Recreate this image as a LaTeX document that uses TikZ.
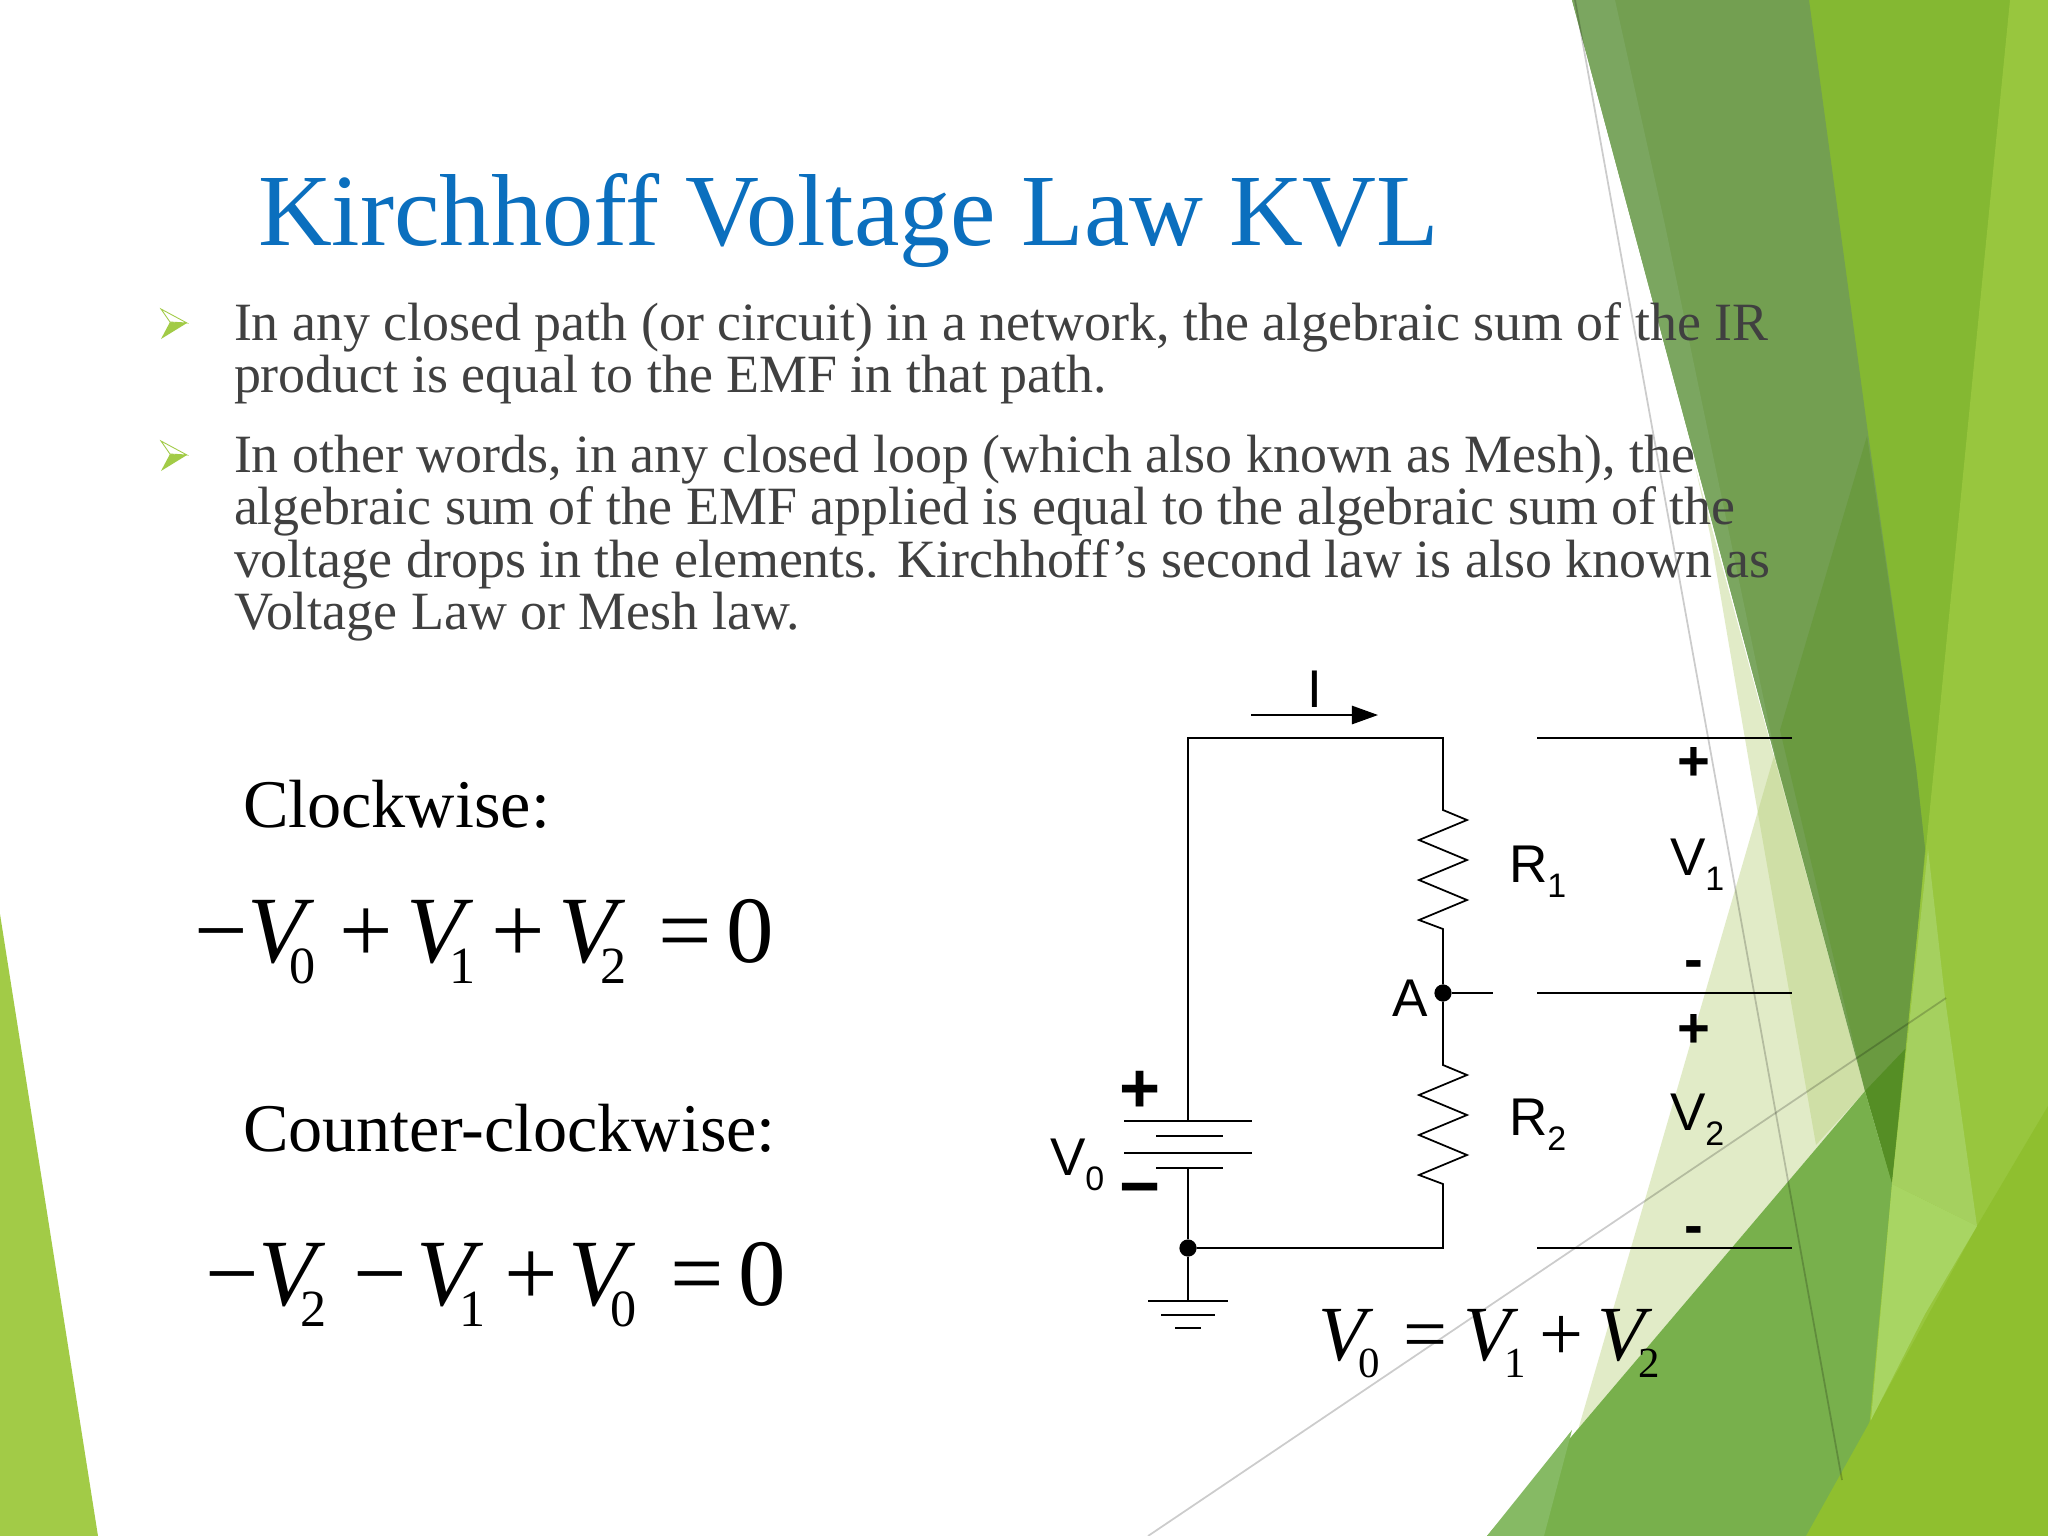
\documentclass[tikz, border = 0pt]{standalone}
\usepackage{fontspec}
\setmainfont{Liberation Serif}
\newfontfamily\arialfont{Liberation Sans}
\usetikzlibrary{arrows.meta}

\definecolor{titleblue}{HTML}{0B6FBE}
\definecolor{bodygray}{HTML}{404040}
\definecolor{leftgreen}{HTML}{A2CB47}
\definecolor{bandgreen}{HTML}{84B832}
\definecolor{olivegreen}{HTML}{739F51}
\definecolor{sliver}{HTML}{7BA660}
\definecolor{darkolive}{HTML}{6A9A40}
\definecolor{deepgreen}{HTML}{558E25}
\definecolor{midgreen}{HTML}{78B04C}
\definecolor{midlight}{HTML}{86BA64}
\definecolor{palegreen}{HTML}{B6CF75}
\definecolor{lightgreen}{HTML}{98C63E}
\definecolor{lowgreen}{HTML}{8FBF2F}
\definecolor{softgreen}{HTML}{A5D05F}
\definecolor{softergreen}{HTML}{A8D563}

% subscripted variable of the equations
\newcommand{\vsub}[2][-0.26em]{\textit{V}\kern#1\raisebox{-0.23em}{\scalebox{0.55}{#2}}}
\newcommand{\elsub}[2]{#1\raisebox{-0.3em}{\scalebox{0.64}{#2}}}

\tikzset{
	every node/.style = {inner sep = 0pt, outer sep = 0pt},
	wire/.style = {line width = 0.5pt},
	dot/.style = {circle, fill = black, minimum size = 4.9pt},
	titletext/.style = {anchor = base west, text = titleblue, font = \fontsize{29.1}{34}\selectfont},
	bodytext/.style = {anchor = north west, align = left, text = bodygray, font = \fontsize{15.33}{14.8}\selectfont},
	headtext/.style = {anchor = base west, font = \fontsize{19.4}{23}\selectfont},
	bigeq/.style = {anchor = base west, font = \fontsize{27}{32}\selectfont},
	smalleq/.style = {anchor = base west, font = \fontsize{22.2}{26}\selectfont},
	cirtext/.style = {anchor = base west, font = \arialfont\fontsize{15.1}{18}\selectfont},
	signtext/.style = {font = \arialfont\bfseries\fontsize{16}{18}\selectfont},
	battsign/.style = {font = \arialfont\bfseries\fontsize{20}{22}\selectfont},
	thinline/.style = {black, opacity = 0.2, line width = 0.5pt}
}

\begin{document}
\begin{tikzpicture}[x = 0.01cm, y = -0.01cm]

	\useasboundingbox [fill = white] (0, 0) rectangle (2048, 1536);

	% Green facets

	\fill [leftgreen] (0, 914) -- (98, 1536) -- (0, 1536) -- cycle;
	\fill [palegreen, opacity = 0.4] (1696, 470) -- (1865, 1091) -- (1816, 1145) -- (1750, 768) -- (1710, 534) -- cycle;
	\fill [palegreen, opacity = 0.4] (1783, 725) -- (1865, 1091) -- (1487, 1536) -- (1578, 1430) -- cycle;
	\fill [bandgreen] (1780, 0) -- (2048, 0) -- (2048, 1536) -- (1859, 1536) -- (1880, 1184) -- (1900, 849) -- (1890, 768) -- cycle;
	\fill [olivegreen] (1572, 0) -- (1809, 0) -- (1867, 426) -- (1916, 768) -- (1925, 849) -- (1892, 1184) -- (1865, 1091) -- (1778, 768) -- cycle;
	\fill [sliver] (1572, 0) -- (1615, 0) -- (1665, 225) -- (1778, 768) -- cycle;
	\fill [darkolive] (1867, 436) -- (1916, 768) -- (1925, 849) -- (1907, 1047) -- (1865, 1091) -- (1780, 730) -- cycle;
	\fill [deepgreen] (1907, 1047) -- (1892, 1184) -- (1865, 1091) -- cycle;
	\fill [midgreen] (1487, 1536) -- (1865, 1091) -- (1892, 1184) -- (1859, 1536) -- cycle;
	\fill [midlight] (1487, 1536) -- (1572, 1430) -- (1544, 1536) -- cycle;
	\fill [lightgreen] (2010, 0) -- (2048, 0) -- (2048, 1536) -- (1859, 1536) -- (1892, 1184) -- (1934, 768) -- cycle;
	\fill [lowgreen] (1806, 1536) -- (1868, 1425) -- (1977, 1226) -- (2048, 1106) -- (2048, 1536) -- cycle;
	\fill [softgreen] (1928, 849) -- (1945, 998) -- (1977, 1226) -- (1892, 1184) -- cycle;
	\fill [softergreen] (1892, 1184) -- (1977, 1226) -- (1925, 1314) -- (1871, 1420) -- cycle;

	\draw [thinline] (1575, 0) -- (1842, 1480);
	\draw [thinline] (1148, 1536) -- (1946, 998);

	% Title and bullets

	\node [titletext] (title) at (258, 245) {Kirchhoff Voltage Law KVL};

	\foreach \y in {0, 132} {
		\fill [leftgreen] (170, 322 + \y) -- (187, 323 + \y) -- (161, 339 + \y) -- cycle;
		\draw [leftgreen, line width = 0.25pt, fill = white] (161, 309 + \y) -- (187, 323 + \y) -- (170, 322 + \y) -- cycle;
	}

	\node [bodytext] (first) at (234, 302.5) {In any closed path (or circuit) in a network, the algebraic sum of the IR\\product is equal to the EMF in that path.};
	\node [bodytext] (second) at (234, 435.5) {In other words, in any closed loop (which also known as Mesh), the\\algebraic sum of the EMF applied is equal to the algebraic sum of the\\voltage drops in the elements. Kirchhoff’s second law is also known as\\Voltage Law or Mesh law.};

	% Equations

	\node [headtext] (clock) at (243, 827.5) {Clockwise:};
	\node [bigeq] (clockeq) at (194, 962) {−\vsub{0}\kern.25em+\kern.14em\vsub{1}\kern.17em+\kern.14em\vsub{2}\kern.33em=\kern.16em0};
	\node [headtext] (counter) at (243, 1151) {Counter-clockwise:};
	\node [bigeq] (countereq) at (205, 1305) {−\vsub{2}\kern.28em−\kern.1em\vsub{1}\kern.2em+\kern.11em\vsub{0}\kern.35em=\kern.16em0};
	\node [smalleq] (sumeq) at (1318, 1360) {\vsub[-0.19em]{0}\kern.3em=\kern.21em\vsub[-0.19em]{1}\kern.18em+\kern.18em\vsub[-0.19em]{2}};

	% Circuit

	\coordinate (tl) at (1188, 738);
	\coordinate (tr) at (1443, 738);
	\coordinate (ra) at (1443, 810);
	\coordinate (rb) at (1443, 929);
	\coordinate (rc) at (1443, 1065);
	\coordinate (rd) at (1443, 1184);
	\coordinate (br) at (1443, 1248);
	\coordinate (battop) at (1188, 1121);
	\coordinate (batbot) at (1188, 1168);
	\coordinate (gnd) at (1188, 1301);
	\coordinate (stub) at (1493, 993);

	\node [dot] (nodea) at (1443, 993) {};
	\node [dot] (nodeb) at (1188, 1248) {};

	\draw [wire] (battop) -- (tl) -- (tr) -- (ra) -- ++(24, 10) -- ++(-48, 20) -- ++(48, 20) -- ++(-48, 20) -- ++(48, 20) -- ++(-48, 20) -- (rb) -- (nodea);
	\draw [wire] (nodea) -- (rc) -- ++(24, 10) -- ++(-48, 20) -- ++(48, 20) -- ++(-48, 20) -- ++(48, 20) -- ++(-48, 20) -- (rd) -- (br) -- (nodeb);
	\draw [wire] (batbot) -- (nodeb) -- (gnd);
	\draw [wire] (nodea) -- (stub);

	% Battery and ground plates

	\foreach \y in {1121, 1153}
		\draw [wire] (1124, \y) -- (1252, \y);
	\foreach \y in {1136, 1168}
		\draw [wire] (1156, \y) -- (1223, \y);
	\draw [wire] (1148, 1301) -- (1228, 1301);
	\draw [wire] (1161, 1315) -- (1215, 1315);
	\draw [wire] (1175, 1328) -- (1201, 1328);

	% Voltage levels

	\foreach \y in {738, 993, 1248}
		\draw [wire] (1537, \y) -- (1792, \y);

	\coordinate (arrowa) at (1251, 715);
	\coordinate (arrowb) at (1378, 715);
	\draw [wire, -{Triangle[length = 7.4pt, width = 5.2pt]}] (arrowa) -- (arrowb);

	% Circuit labels

	\node [cirtext, anchor = base] (cur) at (1315, 707) {I};
	\node [cirtext] (laba) at (1392, 1016) {A};
	\node [cirtext] (labv) at (1050, 1175) {\elsub{V}{0}};
	\node [cirtext] (labra) at (1509, 882) {\elsub{R}{1}};
	\node [cirtext] (labrb) at (1509, 1135) {\elsub{R}{2}};
	\node [cirtext] (labva) at (1670, 875) {\elsub{V}{1}};
	\node [cirtext] (labvb) at (1670, 1130) {\elsub{V}{2}};

	\node [battsign] (batp) at (1140, 1092) {+};
	\node [battsign] (batm) at (1140, 1197) {−};
	\node [signtext] (pa) at (1694, 764) {+};
	\node [signtext] (ma) at (1694, 970) {-};
	\node [signtext] (pb) at (1694, 1031) {+};
	\node [signtext] (mb) at (1694, 1236) {-};

\end{tikzpicture}
\end{document}
